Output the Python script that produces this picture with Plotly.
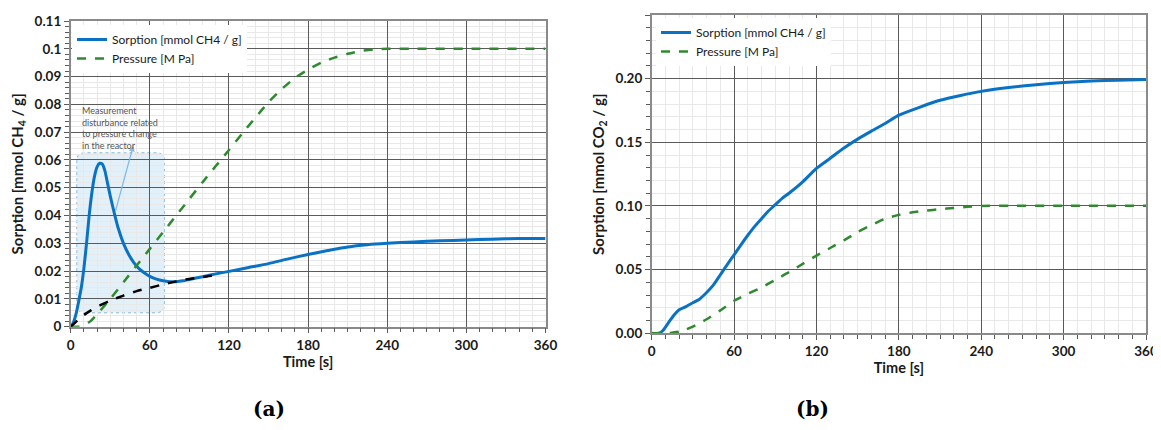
import plotly.graph_objects as go

# ---------------- data: panel (a) ----------------
t_sorp_a = [0, 2, 4, 6, 8, 10, 12, 14, 16, 18, 20, 22, 24, 26, 28, 30, 33, 36, 40, 44, 48, 52, 56, 60,
            65, 70, 75, 80, 85, 90, 100, 110, 120, 135, 150, 165, 180, 195, 210, 225, 240, 260, 280,
            300, 320, 340, 360]
v_sorp_a = [0, 0.0015, 0.0045, 0.009, 0.014, 0.021, 0.030, 0.040, 0.048, 0.054, 0.0575, 0.0588, 0.0585,
            0.056, 0.0515, 0.047, 0.041, 0.0355, 0.030, 0.026, 0.0230, 0.0208, 0.0193, 0.0181,
            0.0171, 0.0165, 0.0162, 0.0162, 0.0165, 0.0170, 0.0180, 0.0190, 0.0199, 0.0213, 0.0227,
            0.0244, 0.0260, 0.0274, 0.0287, 0.0295, 0.0300, 0.0305, 0.0309, 0.0312, 0.0315, 0.0317, 0.0317]

t_base_a = [0, 5, 10, 15, 20, 25, 30, 40, 50, 60, 70, 80, 90, 100, 107]
v_base_a = [0, 0.0022, 0.0042, 0.0058, 0.0072, 0.0083, 0.0094, 0.0112, 0.0128, 0.0140, 0.0152,
            0.0163, 0.0172, 0.0179, 0.0183]

t_pres_a = [0, 5, 10, 15, 20, 25, 30, 40, 50, 60, 70, 80, 90, 100, 110, 120, 130, 140, 150, 160,
            170, 180, 190, 200, 210, 220, 230, 240, 260, 300, 360]
v_pres_a = [0, 0, 0.0005, 0.002, 0.0045, 0.0072, 0.0100, 0.0160, 0.0220, 0.0280, 0.0340, 0.0400,
            0.0460, 0.0520, 0.0578, 0.0636, 0.0695, 0.0752, 0.0808, 0.0855, 0.0895, 0.0925, 0.0950,
            0.0968, 0.0982, 0.0992, 0.0998, 0.1000, 0.1, 0.1, 0.1]

# ---------------- data: panel (b) ----------------
t_sorp_b = [0, 5, 8, 12, 16, 20, 25, 30, 35, 40, 45, 50, 55, 60, 65, 70, 75, 80, 85, 90, 95, 100,
            110, 120, 130, 140, 150, 160, 170, 180, 195, 210, 225, 240, 260, 280, 300, 320, 340, 360]
v_sorp_b = [0, 0, 0.002, 0.008, 0.014, 0.0185, 0.021, 0.024, 0.027, 0.032, 0.038, 0.046, 0.054,
            0.0616, 0.0695, 0.077, 0.084, 0.090, 0.096, 0.101, 0.106, 0.110, 0.119, 0.1295, 0.1375,
            0.1455, 0.1525, 0.1588, 0.1648, 0.1713, 0.1775, 0.1830, 0.1868, 0.1900, 0.1930, 0.1953,
            0.1970, 0.1982, 0.1988, 0.1993]

t_pres_b = [0, 10, 15, 20, 25, 30, 40, 50, 60, 70, 80, 90, 100, 110, 120, 130, 140, 150, 160, 170,
            180, 190, 200, 210, 220, 230, 240, 260, 300, 360]
v_pres_b = [0, 0, 0.0005, 0.0012, 0.003, 0.0052, 0.0110, 0.0180, 0.0256, 0.0310, 0.0360, 0.0420,
            0.0480, 0.0545, 0.0610, 0.0670, 0.0730, 0.0795, 0.0850, 0.0900, 0.0930, 0.0950, 0.0963,
            0.0975, 0.0985, 0.0993, 0.1000, 0.1002, 0.1002, 0.1002]

# ---------------- tick labels ----------------
x_ticks = [0, 60, 120, 180, 240, 300, 360]
x_tick_text = ["0", "60", "120", "180", "240", "300", "360"]
y_ticks_a = [0, 0.01, 0.02, 0.03, 0.04, 0.05, 0.06, 0.07, 0.08, 0.09, 0.1, 0.11]
y_tick_text_a = ["0", "0.01", "0.02", "0.03", "0.04", "0.05", "0.06", "0.07", "0.08", "0.09", "0.1", "0.11"]
y_ticks_b = [0, 0.05, 0.10, 0.15, 0.20, 0.25]
y_tick_text_b = ["0.00", "0.05", "0.10", "0.15", "0.20", "0.25"]

# page body has an 8px margin: work in window pixels and convert
OFF = 8
W, H = 1161 - OFF, 430 - OFF

def px(x):
    return (x - OFF) / W

def py(y):
    return 1 - (y - OFF) / H

BLUE = "#0a72c4"
GREEN = "#2f8a2f"
FONT = "Lato"
TXT = "#1a1a1a"

fig = go.Figure()

fig.add_trace(go.Scatter(x=t_sorp_a, y=v_sorp_a, mode="lines", name="Sorption [mmol CH4 / g]",
                         line=dict(color=BLUE, width=3, shape="spline", smoothing=0.6),
                         xaxis="x", yaxis="y", legend="legend"))
fig.add_trace(go.Scatter(x=t_pres_a, y=v_pres_a, mode="lines", name="Pressure [M Pa]",
                         line=dict(color=GREEN, width=2.5, dash="dash", shape="spline", smoothing=0.6),
                         xaxis="x", yaxis="y", legend="legend"))
fig.add_trace(go.Scatter(x=t_base_a, y=v_base_a, mode="lines", showlegend=False,
                         line=dict(color="black", width=2.5, dash="dash", shape="spline", smoothing=0.6),
                         xaxis="x", yaxis="y"))

fig.add_trace(go.Scatter(x=t_sorp_b, y=v_sorp_b, mode="lines", name="Sorption [mmol CH4 / g]",
                         line=dict(color=BLUE, width=3, shape="spline", smoothing=0.6),
                         xaxis="x2", yaxis="y2", legend="legend2"))
fig.add_trace(go.Scatter(x=t_pres_b, y=v_pres_b, mode="lines", name="Pressure [M Pa]",
                         line=dict(color=GREEN, width=2.5, dash="dash", shape="spline", smoothing=0.6),
                         xaxis="x2", yaxis="y2", legend="legend2"))

dom_xa = [px(70.7), px(545.5)]
dom_ya = [py(326.7), py(21)]
dom_xb = [px(651.7), px(1146)]
dom_yb = [py(333.3), py(15)]

MAJOR = "#5a5a5a"
MINOR = "#e8e8e8"

def xaxis(domain, anchor):
    return dict(domain=domain, anchor=anchor, range=[0, 360], tickvals=x_ticks, ticktext=x_tick_text,
                showgrid=True, gridcolor=MAJOR, gridwidth=1,
                ticks="outside", ticklen=5, tickcolor=MAJOR,
                minor=dict(dtick=10, showgrid=True, gridcolor=MINOR, gridwidth=1,
                           ticks="outside", ticklen=4, tickcolor=MAJOR),
                showline=True, linecolor="#8a8a8a", linewidth=1.5, mirror=True,
                zeroline=False, automargin=False,
                tickfont=dict(family=FONT, size=13.5, color=TXT, weight="bold"),
                title=dict(text="<b>Time [s]</b>", font=dict(family=FONT, size=14.5, color=TXT),
                           standoff=5))

def yaxis(domain, anchor, rng, tv, tt, mdt, title):
    return dict(domain=domain, anchor=anchor, range=rng, tickvals=tv, ticktext=tt,
                showgrid=True, gridcolor=MAJOR, gridwidth=1,
                ticks="outside", ticklen=5, tickcolor=MAJOR,
                minor=dict(dtick=mdt, showgrid=True, gridcolor=MINOR, gridwidth=1,
                           ticks="outside", ticklen=4, tickcolor=MAJOR),
                showline=True, linecolor="#8a8a8a", linewidth=1.5, mirror=True,
                zeroline=False, automargin=False,
                tickfont=dict(family=FONT, size=13.5, color=TXT, weight="bold"),
                title=dict(text=title, font=dict(family=FONT, size=15, color=TXT), standoff=7))

# rounded highlight box (panel a)
bx0, bx1, by0, by1 = 4.6, 71.0, 0.005, 0.0626
rx, ry = 7.0, 0.0026
box_path = (f"M {bx0+rx},{by0} L {bx1-rx},{by0} Q {bx1},{by0} {bx1},{by0+ry} "
            f"L {bx1},{by1-ry} Q {bx1},{by1} {bx1-rx},{by1} "
            f"L {bx0+rx},{by1} Q {bx0},{by1} {bx0},{by1-ry} "
            f"L {bx0},{by0+ry} Q {bx0},{by0} {bx0+rx},{by0} Z")

fig.update_layout(
    width=W, height=H,
    margin=dict(l=0, r=0, t=0, b=0),
    paper_bgcolor="white", plot_bgcolor="white",
    xaxis=xaxis(dom_xa, "y"),
    yaxis=yaxis(dom_ya, "x", [0, 0.11], y_ticks_a, y_tick_text_a, 0.002,
                "<b>Sorption [mmol CH<sub>4</sub> / g]</b>"),
    xaxis2=xaxis(dom_xb, "y2"),
    yaxis2=yaxis(dom_yb, "x2", [0, 0.25], y_ticks_b, y_tick_text_b, 0.01,
                 "<b>Sorption [mmol CO<sub>2</sub> / g]</b>"),
    legend=dict(x=px(72), y=py(25), xanchor="left", yanchor="top", bgcolor="white",
                font=dict(family=FONT, size=12, color=TXT), itemwidth=30, tracegroupgap=0),
    legend2=dict(x=px(656), y=py(18), xanchor="left", yanchor="top", bgcolor="white",
                 font=dict(family=FONT, size=12, color=TXT), itemwidth=30, tracegroupgap=0),
    shapes=[dict(type="path", path=box_path, xref="x", yref="y",
                 fillcolor="rgba(150,200,235,0.28)",
                 line=dict(color="rgba(110,170,215,0.8)", width=1, dash="dot"), layer="below")],
    annotations=[
        dict(x=47.5, y=0.0652, ax=33.6, ay=0.041, xref="x", yref="y", axref="x", ayref="y",
             text="", showarrow=True, arrowhead=2, arrowsize=1, arrowwidth=1.2,
             arrowcolor="rgba(120,180,225,0.9)"),
        dict(x=7.0, y=0.0625, xref="x", yref="y", xanchor="left", yanchor="bottom", align="left",
             showarrow=False,
             text="Measurement<br>disturbance related<br>to pressure change<br>in the reactor",
             font=dict(family=FONT, size=9, color="#555555")),
        dict(x=px(251), y=py(423), xref="paper", yref="paper", showarrow=False,
             text="<b>(a)</b>", font=dict(family="DejaVu Serif", size=20, color="black")),
        dict(x=px(831), y=py(423), xref="paper", yref="paper", showarrow=False,
             text="<b>(b)</b>", font=dict(family="DejaVu Serif", size=20, color="black")),
    ],
)

fig.write_html("out.html")
